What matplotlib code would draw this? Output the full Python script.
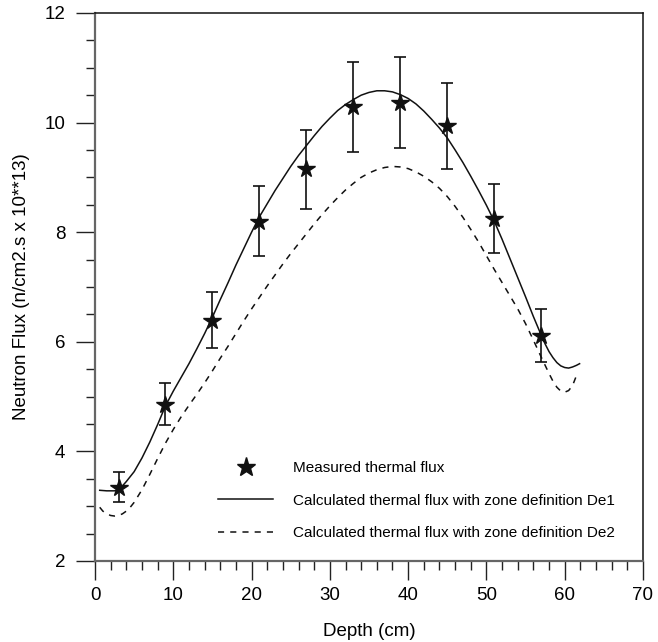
import matplotlib.pyplot as plt
from matplotlib.ticker import MultipleLocator

plt.rcParams['font.family'] = ['Liberation Sans', 'DejaVu Sans']

# measured thermal flux (depth in cm, flux in 1e13 n/cm2.s)
depth_meas = [3, 9, 15, 21, 27, 33, 39, 45, 51, 57]
flux_meas = [3.33, 4.84, 6.38, 8.18, 9.16, 10.28, 10.36, 9.94, 8.24, 6.11]
err_hi = [3.62, 5.25, 6.90, 8.84, 9.87, 11.10, 11.19, 10.73, 8.87, 6.60]
err_lo = [3.08, 4.48, 5.88, 7.56, 8.42, 9.46, 9.53, 9.15, 7.62, 5.63]

# calculated, zone definition De1
depth_de1 = [0.6, 1.5, 2.5, 3.2, 4, 5, 6, 7, 8, 9, 10, 11, 12, 13, 14, 15, 16, 17,
             18, 19, 20, 21, 22, 23, 24, 25, 26, 27, 28, 29, 30, 31, 32, 33, 34, 35,
             36, 37, 38, 39, 40, 41, 42, 43, 44, 45, 46, 47, 48, 49, 50, 51, 52, 53,
             54, 55, 56, 57, 57.5, 58, 58.5, 59, 59.5, 60, 60.5, 61, 61.5, 61.9]
flux_de1 = [3.29, 3.28, 3.28, 3.32, 3.45, 3.63, 3.88, 4.17, 4.49, 4.83, 5.1, 5.35,
            5.6, 5.87, 6.15, 6.45, 6.77, 7.08, 7.4, 7.7, 8.0, 8.28, 8.52, 8.76, 8.98,
            9.2, 9.4, 9.58, 9.76, 9.93, 10.08, 10.22, 10.33, 10.42, 10.5, 10.55,
            10.58, 10.58, 10.56, 10.51, 10.44, 10.34, 10.21, 10.06, 9.9, 9.72, 9.5,
            9.27, 9.02, 8.76, 8.49, 8.2, 7.87, 7.52, 7.17, 6.82, 6.46, 6.12, 5.96,
            5.82, 5.71, 5.62, 5.56, 5.53, 5.52, 5.54, 5.57, 5.6]

# calculated, zone definition De2
depth_de2 = [0.6, 1, 1.5, 2, 2.5, 3, 3.5, 4, 4.5, 5, 6, 7, 8, 9, 10, 11, 12, 13, 14,
             15, 16, 17, 18, 19, 20, 21, 22, 23, 24, 25, 26, 27, 28, 29, 30, 31, 32,
             33, 34, 35, 36, 37, 38, 39, 40, 41, 42, 43, 44, 45, 46, 47, 48, 49, 50,
             51, 52, 53, 54, 55, 56, 57, 58, 58.5, 59, 59.5, 60, 60.5, 61, 61.6]
flux_de2 = [2.98, 2.91, 2.86, 2.83, 2.82, 2.83, 2.86, 2.91, 2.98, 3.07, 3.3, 3.58,
            3.87, 4.15, 4.4, 4.63, 4.84, 5.04, 5.25, 5.47, 5.7, 5.92, 6.15, 6.38, 6.6,
            6.81, 7.02, 7.22, 7.42, 7.61, 7.79, 7.97, 8.15, 8.32, 8.48, 8.63, 8.77,
            8.89, 9.0, 9.08, 9.14, 9.18, 9.2, 9.19, 9.16, 9.1, 9.02, 8.92, 8.8, 8.65,
            8.47, 8.27, 8.05, 7.82, 7.57, 7.32, 7.08, 6.84, 6.6, 6.33, 6.03, 5.72,
            5.42, 5.28, 5.17, 5.1, 5.08, 5.11, 5.2, 5.42]

fig = plt.figure(figsize=(6.58, 6.42), dpi=100)
ax = fig.add_axes([0.1444, 0.1262, 0.9772 - 0.1444, 0.9798 - 0.1262])

yerr = [[f - lo for f, lo in zip(flux_meas, err_lo)],
        [hi - f for f, hi in zip(flux_meas, err_hi)]]
ax.errorbar(depth_meas, flux_meas, yerr=yerr, fmt='none', ecolor='#111111',
            elinewidth=1.2, capsize=4.5, capthick=1.2, zorder=2)
ax.plot(depth_meas, flux_meas, linestyle='none', marker='*', markersize=13,
        color='#111111', label='Measured thermal flux', zorder=3)
ax.plot(depth_de1, flux_de1, color='#111111', linewidth=1.1,
        label='Calculated thermal flux with zone definition De1')
ax.plot(depth_de2, flux_de2, color='#111111', linewidth=1.1, linestyle=(0, (4, 4)),
        label='Calculated thermal flux with zone definition De2')

ax.set_xlim(0, 70)
ax.set_ylim(2, 12)
ax.xaxis.set_major_locator(MultipleLocator(10))
ax.xaxis.set_minor_locator(MultipleLocator(2))
ax.yaxis.set_major_locator(MultipleLocator(2))
ax.yaxis.set_minor_locator(MultipleLocator(0.5))
ax.tick_params(which='major', direction='out', length=13.5, width=1.0,
               color='#222222', labelsize=13.5)
ax.tick_params(which='minor', direction='out', length=6.5, width=1.0, color='#222222')
ax.tick_params(axis='x', which='major', pad=5)
ax.tick_params(axis='y', which='major', pad=8)

for side in ['left', 'bottom']:
    ax.spines[side].set_color('#666666')
    ax.spines[side].set_linewidth(1.6)
for side in ['top', 'right']:
    ax.spines[side].set_color('#111111')
    ax.spines[side].set_linewidth(1.1)

ax.set_xlabel('Depth (cm)', fontsize=13.5, labelpad=14)
ax.set_ylabel('Neutron Flux (n/cm2.s x 10**13)', fontsize=13.5, labelpad=10)

ax.legend(loc='upper left', bbox_to_anchor=(0.2, 0.207), frameon=False, fontsize=11,
          handlelength=3.6, handletextpad=1.3, labelspacing=1.2, markerscale=1.1)

plt.savefig('out.png', dpi=100)
plt.close()
